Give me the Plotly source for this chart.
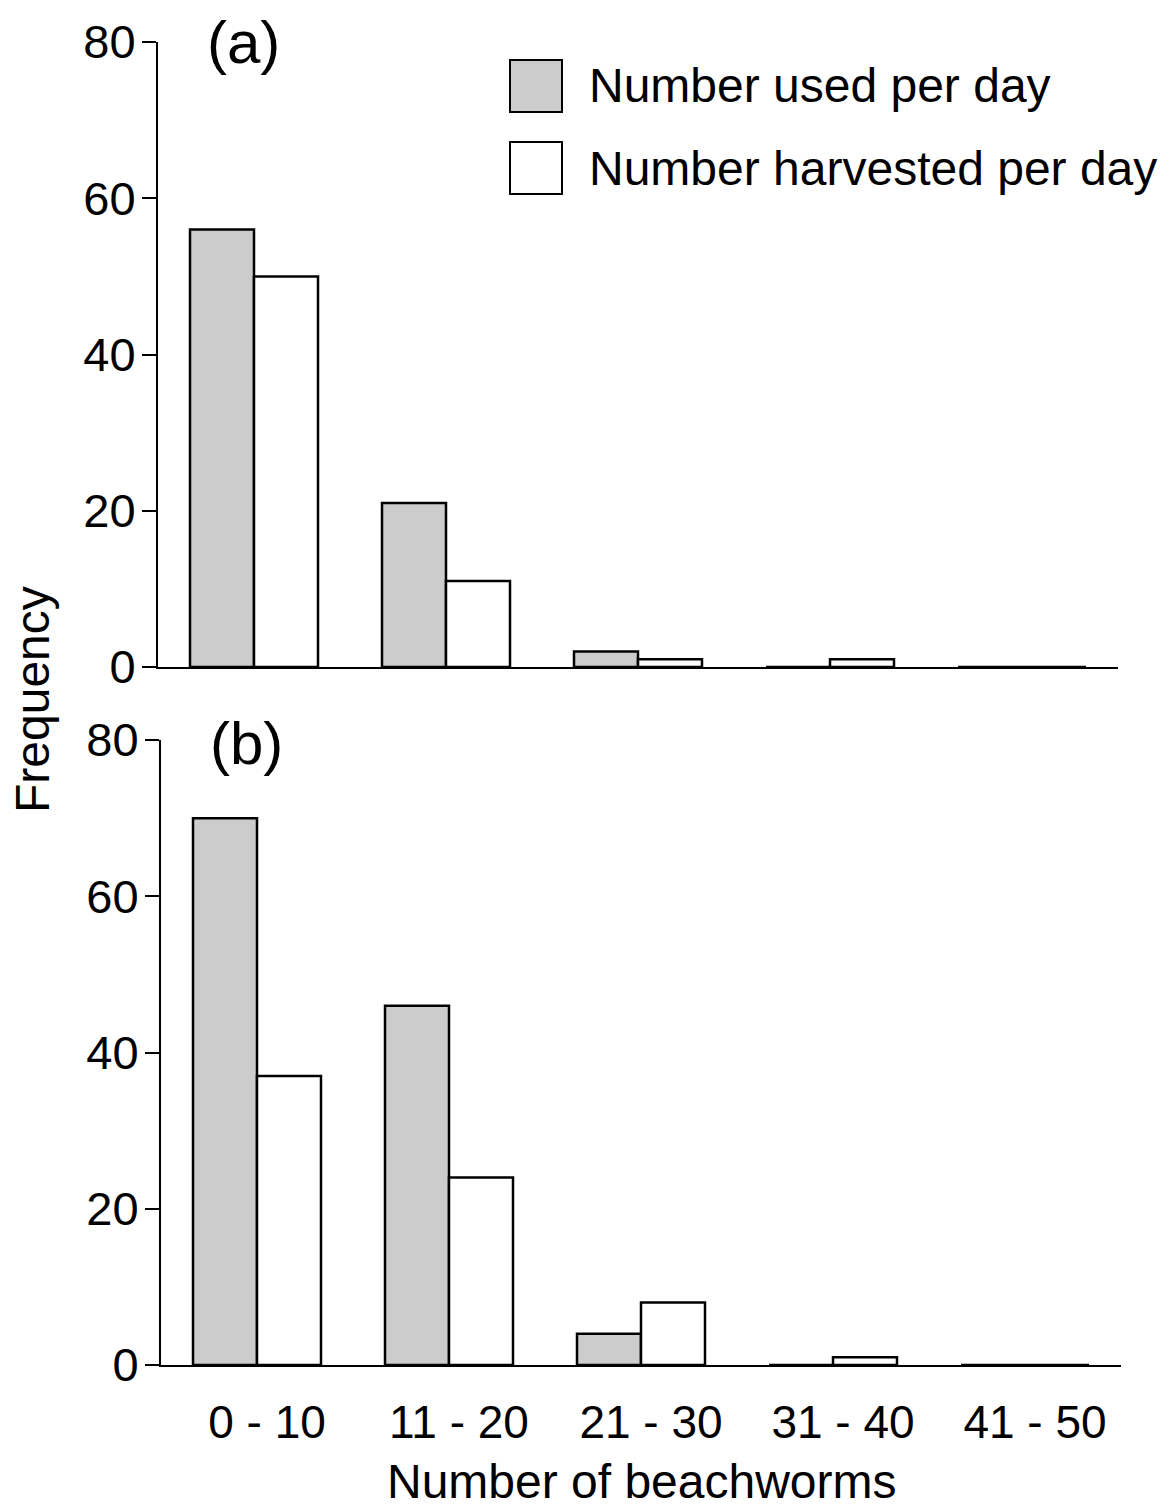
import plotly.graph_objects as go

categories = ["0 - 10", "11 - 20", "21 - 30", "31 - 40", "41 - 50"]
used_a = [56, 21, 2, 0, 0]
harvested_a = [50, 11, 1, 1, 0]
used_b = [70, 46, 4, 0, 0]
harvested_b = [37, 24, 8, 1, 0]
y_ticks = [0, 20, 40, 60, 80]
series_names = ["Number used per day", "Number harvested per day"]
panel_labels = ["(a)", "(b)"]

W, H = 1170, 1508
FONT = "Liberation Sans, Arial, Helvetica, sans-serif"
GRAY = "#cccccc"

def px(x):
    return x / W

def py(y):
    return 1 - y / H

fig = go.Figure()
xs = list(range(len(categories)))
for (u, h, xa, ya) in [(used_a, harvested_a, "x", "y"), (used_b, harvested_b, "x2", "y2")]:
    fig.add_trace(go.Bar(x=xs, y=u, name=series_names[0], xaxis=xa, yaxis=ya,
                         marker=dict(color=GRAY, line=dict(color="black", width=2.5)),
                         showlegend=False))
    fig.add_trace(go.Bar(x=xs, y=h, name=series_names[1], xaxis=xa, yaxis=ya,
                         marker=dict(color="white", line=dict(color="black", width=2.5)),
                         showlegend=False))

yaxis_common = dict(range=[0, 80], tickvals=y_ticks, ticks="outside", ticklen=14, tickwidth=2,
                    tickcolor="black", showline=True, linecolor="black", linewidth=2,
                    showgrid=False, zeroline=False, tickfont=dict(family=FONT, size=47, color="black"),
                    automargin=False, ticklabelstandoff=-3)
xaxis_common = dict(range=[-0.5, 4.5], showline=True, linecolor="black", linewidth=2,
                    showgrid=False, zeroline=False, ticks="", automargin=False)

fig.update_layout(
    width=W, height=H, margin=dict(l=0, r=0, t=0, b=0),
    paper_bgcolor="white", plot_bgcolor="white",
    barmode="group", bargap=1/3, bargroupgap=0,
    xaxis=dict(domain=[px(158), px(1118)], anchor="y", showticklabels=False, **xaxis_common),
    yaxis=dict(domain=[py(667), py(42)], anchor="x", **yaxis_common),
    xaxis2=dict(domain=[px(161), px(1121)], anchor="y2", showticklabels=True,
                tickvals=xs, ticktext=categories,
                tickfont=dict(family=FONT, size=46, color="black"),
                ticklabelstandoff=16, ticklabelshift=10,
                **xaxis_common),
    yaxis2=dict(domain=[py(1365), py(740)], anchor="x2", **yaxis_common),
    showlegend=False,
)

# legend
legend_items = [(series_names[0], GRAY, 60), (series_names[1], "white", 142)]
for name, col, top in legend_items:
    fig.add_shape(type="rect", xref="paper", yref="paper",
                  x0=px(510), x1=px(562), y0=py(top + 52), y1=py(top),
                  fillcolor=col, line=dict(color="black", width=2))
    fig.add_annotation(text=name, xref="paper", yref="paper", x=px(587), y=py(top + 26),
                       xanchor="left", yanchor="middle", showarrow=False,
                       font=dict(family=FONT, size=48, color="black"))

# panel labels
for lab, (cx, cy) in zip(panel_labels, [(243, 42), (246, 743)]):
    fig.add_annotation(text=lab, xref="paper", yref="paper", x=px(cx), y=py(cy),
                       xanchor="center", yanchor="middle", showarrow=False,
                       font=dict(family=FONT, size=60, color="black"))

# axis titles
fig.add_annotation(text="Frequency", xref="paper", yref="paper", x=px(32), y=py(700),
                   xanchor="center", yanchor="middle", showarrow=False, textangle=-90,
                   font=dict(family=FONT, size=48, color="black"))
fig.add_annotation(text="Number of beachworms", xref="paper", yref="paper", x=px(642), y=py(1481),
                   xanchor="center", yanchor="middle", showarrow=False,
                   font=dict(family=FONT, size=48, color="black"))

fig.write_html("out.html")
